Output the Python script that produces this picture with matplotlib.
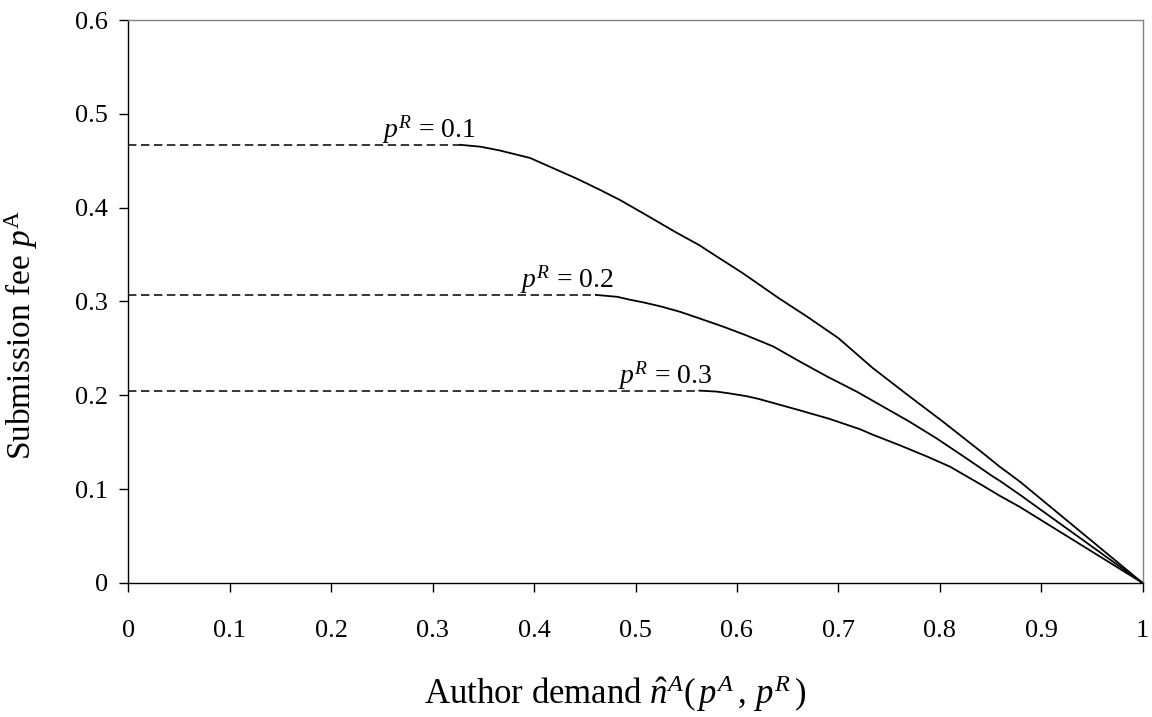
import matplotlib
matplotlib.use("Agg")
import matplotlib.pyplot as plt

plt.rcParams['font.family'] = ['Liberation Serif', 'DejaVu Serif']
plt.rcParams['mathtext.fontset'] = 'custom'
plt.rcParams['mathtext.rm'] = 'Liberation Serif'
plt.rcParams['mathtext.it'] = 'Liberation Serif:italic'
plt.rcParams['mathtext.bf'] = 'Liberation Serif:bold'

# ---- data ----
labels = ["$p^{R}$ = 0.1", "$p^{R}$ = 0.2", "$p^{R}$ = 0.3"]
levels = [0.467, 0.307, 0.205]          # flat (dashed) part
label_x = [0.250, 0.386, 0.483]

x_01 = [0.327, 0.347, 0.366, 0.396, 0.419, 0.442, 0.465, 0.485, 0.514, 0.541,
        0.563, 0.570, 0.606, 0.642, 0.669, 0.700, 0.734, 0.770, 0.803, 0.843,
        0.859, 0.879, 1.0]
y_01 = [0.467, 0.465, 0.461, 0.453, 0.442, 0.431, 0.419, 0.408, 0.390, 0.373,
        0.360, 0.355, 0.330, 0.303, 0.284, 0.261, 0.229, 0.199, 0.172, 0.138,
        0.124, 0.108, 0.0]

x_02 = [0.461, 0.482, 0.494, 0.508, 0.524, 0.544, 0.563, 0.587, 0.609, 0.636,
        0.662, 0.689, 0.718, 0.744, 0.770, 0.797, 0.826, 0.853, 0.859, 0.879, 1.0]
y_02 = [0.307, 0.305, 0.302, 0.299, 0.295, 0.289, 0.282, 0.273, 0.264, 0.252,
        0.236, 0.220, 0.204, 0.188, 0.172, 0.154, 0.133, 0.113, 0.109, 0.094, 0.0]

x_03 = [0.563, 0.580, 0.593, 0.610, 0.622, 0.642, 0.662, 0.691, 0.721, 0.734,
        0.760, 0.787, 0.810, 0.842, 0.859, 0.879, 1.0]
y_03 = [0.205, 0.204, 0.202, 0.199, 0.196, 0.190, 0.184, 0.175, 0.164, 0.158,
        0.147, 0.135, 0.124, 0.104, 0.093, 0.081, 0.0]

xticks = [0, 0.1, 0.2, 0.3, 0.4, 0.5, 0.6, 0.7, 0.8, 0.9, 1]
xtick_labels = ["0", "0.1", "0.2", "0.3", "0.4", "0.5", "0.6", "0.7", "0.8", "0.9", "1"]
yticks = [0, 0.1, 0.2, 0.3, 0.4, 0.5, 0.6]
ytick_labels = ["0", "0.1", "0.2", "0.3", "0.4", "0.5", "0.6"]

curves = [(x_01, y_01), (x_02, y_02), (x_03, y_03)]

fig = plt.figure(figsize=(11.52, 7.17), dpi=100)
ax = fig.add_axes([0.1114, 0.1869, 0.9919 - 0.1114, 0.9721 - 0.1869])

for (xs, ys), lev, lab, lx in zip(curves, levels, labels, label_x):
    ax.plot([0, xs[0]], [lev, lev], color='black', lw=1.1,
            linestyle=(0, (5.5, 3.0)), solid_capstyle='butt')
    ax.plot(xs, ys, color='black', lw=1.3, solid_joinstyle='round')
    ax.text(lx, lev + 0.008, lab, fontsize=20, ha='left', va='baseline')

ax.set_xlim(0, 1)
ax.set_ylim(0, 0.6)
ax.set_xticks(xticks)
ax.set_xticklabels(xtick_labels)
ax.set_yticks(yticks)
ax.set_yticklabels(ytick_labels)
ax.tick_params(axis='both', direction='out', length=6.5, width=1.0,
               labelsize=19, color='black')
ax.tick_params(axis='x', pad=20)
ax.tick_params(axis='y', pad=8)

for s in ['left', 'bottom']:
    ax.spines[s].set_color('black')
    ax.spines[s].set_linewidth(1.0)
for s in ['top', 'right']:
    ax.spines[s].set_color('#808080')
    ax.spines[s].set_linewidth(1.0)

ax.set_xlabel(r"Author demand $\hat{n}^{A}(\,p^{A}\,,\,p^{R}\,)$", fontsize=25)
ax.xaxis.set_label_coords(0.48, -0.16)
ax.set_ylabel(r"Submission fee $p^{\mathrm{A}}$", fontsize=24)
ax.yaxis.set_label_coords(-0.087, 0.44)

fig.savefig("out.png", dpi=100)
